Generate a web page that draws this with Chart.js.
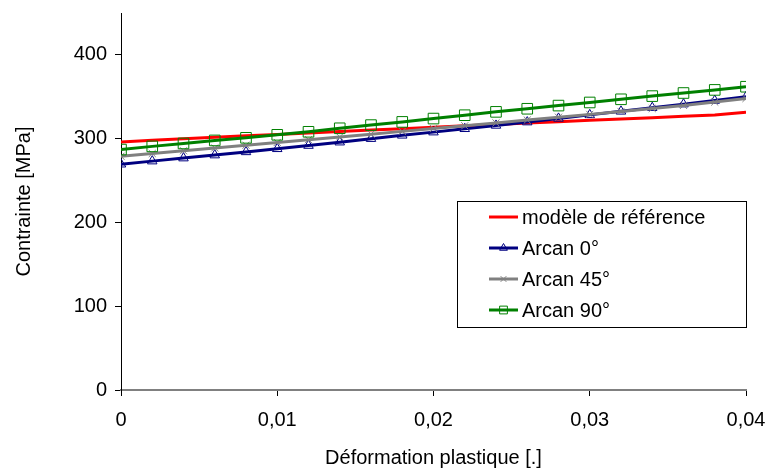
<!DOCTYPE html>
<html><head><meta charset="utf-8">
<script src="https://cdn.jsdelivr.net/npm/chart.js@4/dist/chart.umd.min.js"></script>
<style>html,body{margin:0;padding:0;background:#fff}</style>
</head><body>
<canvas id="c" width="771" height="468"></canvas>
<script>
const strain = [0,0.002,0.004,0.006,0.008,0.01,0.012,0.014,0.016,0.018,0.02,0.022,0.024,0.026,0.028,0.03,0.032,0.034,0.036,0.038,0.04];
const modeleReference = [296,298,299.8,301.6,303.4,305.1,306.8,308.5,310.2,311.9,313.6,315.3,317,318.7,320.3,321.9,323.5,325.1,326.7,328.3,331.5];
const arcan0 = [269.5,273.2,276.8,280.4,284.2,287.9,291.8,295.8,300,304,307.8,311.8,315.8,319.8,324.2,328.4,332.6,337,341.2,345.5,350];
const arcan45 = [279,282.3,285.6,288.9,292.2,295.5,298.8,302.1,305.4,308.7,312,315.4,318.8,322.2,325.6,329,332.5,336,339.7,343.7,348];
const arcan90 = [287,290.8,294.3,297.9,301,304.6,308.2,312.4,316.2,320,324,328,332,335.7,339.5,343.2,347,350.8,354.5,358.2,362];
const seriesLabels = ['modèle de référence','Arcan 0°','Arcan 45°','Arcan 90°'];
const xTicks = [0,0.01,0.02,0.03,0.04];
const yTicks = [0,100,200,300,400];

const FONT = "'Liberation Sans', Arial, sans-serif";
const pts = arr => arr.map((v,i)=>({x:strain[i], y:v}));

const legendBox = {
  id:'legendBox',
  afterDraw(chart){
    const ctx = chart.ctx;
    const x0 = 457, y0 = 201, w = 289, h = 126;
    ctx.save();
    ctx.fillStyle = '#fff'; ctx.fillRect(x0,y0,w,h);
    ctx.strokeStyle = '#000'; ctx.lineWidth = 1; ctx.strokeRect(x0+0.5,y0+0.5,w,h);
    chart.data.datasets.forEach((ds,i)=>{
      const y = 217 + 31*i;
      ctx.strokeStyle = ds.borderColor; ctx.lineWidth = 3;
      ctx.beginPath(); ctx.moveTo(489,y); ctx.lineTo(518,y); ctx.stroke();
      if (ds.pointRadius > 0) {
        ctx.strokeStyle = ds.pointBorderColor; ctx.fillStyle = 'rgba(0,0,0,0)'; ctx.lineWidth = 1;
        Chart.helpers.drawPoint(ctx,{pointStyle:ds.pointStyle,radius:ds.legendRadius,borderWidth:1,rotation:0},503.5,y);
      }
      ctx.fillStyle = '#000'; ctx.font = '20px ' + FONT; ctx.textBaseline = 'middle'; ctx.textAlign = 'left';
      ctx.fillText(ds.label,522,y+1);
    });
    ctx.restore();
  }
};

new Chart(document.getElementById('c'), {
  type:'line',
  data:{ datasets:[
    {label:seriesLabels[0], data:pts(modeleReference), borderColor:'#ff0000', borderWidth:3, pointRadius:0, order:3},
    {label:seriesLabels[1], data:pts(arcan0), borderColor:'#000080', borderWidth:3, pointStyle:'triangle', pointRadius:5.5, legendRadius:4.5, pointBorderColor:'#000080', pointBackgroundColor:'rgba(0,0,0,0)', pointBorderWidth:1, order:2},
    {label:seriesLabels[2], data:pts(arcan45), borderColor:'#808080', borderWidth:3, pointStyle:'crossRot', pointRadius:5, legendRadius:4, pointBorderColor:'#808080', pointBackgroundColor:'rgba(0,0,0,0)', pointBorderWidth:1, order:1},
    {label:seriesLabels[3], data:pts(arcan90), borderColor:'#008000', borderWidth:3, pointStyle:'rect', pointRadius:7.5, legendRadius:5.5, pointBorderColor:'#008000', pointBackgroundColor:'rgba(0,0,0,0)', pointBorderWidth:1, order:0}
  ]},
  options:{
    responsive:false, animation:false, devicePixelRatio:1,
    layout:{autoPadding:false, padding:{left:0,top:13,right:25,bottom:0}},
    plugins:{legend:{display:false}, tooltip:{enabled:false}},
    elements:{line:{tension:0}},
    scales:{
      x:{type:'linear', min:0, max:0.04,
        afterBuildTicks:s=>{s.ticks = xTicks.map(v=>({value:v}));},
        afterFit:s=>{s.height = 78;},
        border:{color:'#808080', width:2},
        grid:{drawOnChartArea:false, drawTicks:true, tickLength:6, color:'#000'},
        ticks:{color:'#000', padding:5, maxRotation:0, font:{family:FONT,size:20,lineHeight:1.9},
          callback:v=> v===0 ? '0' : v.toFixed(2).replace('.',',')},
        title:{display:true, text:'Déformation plastique [.]', color:'#000', font:{family:FONT,size:20}, padding:{top:0,bottom:-2}}
      },
      y:{type:'linear', min:0, max:450,
        afterBuildTicks:s=>{s.ticks = yTicks.map(v=>({value:v}));},
        afterFit:s=>{s.width = 121;},
        border:{color:'#000', width:1},
        grid:{drawOnChartArea:false, drawTicks:true, tickLength:6, color:'#000'},
        ticks:{color:'#000', padding:8, font:{family:FONT,size:20,lineHeight:0.2}},
        title:{display:true, text:'Contrainte [MPa]', color:'#000', font:{family:FONT,size:20}, padding:{top:12,bottom:0}}
      }
    }
  },
  plugins:[legendBox]
});
</script>
</body></html>
